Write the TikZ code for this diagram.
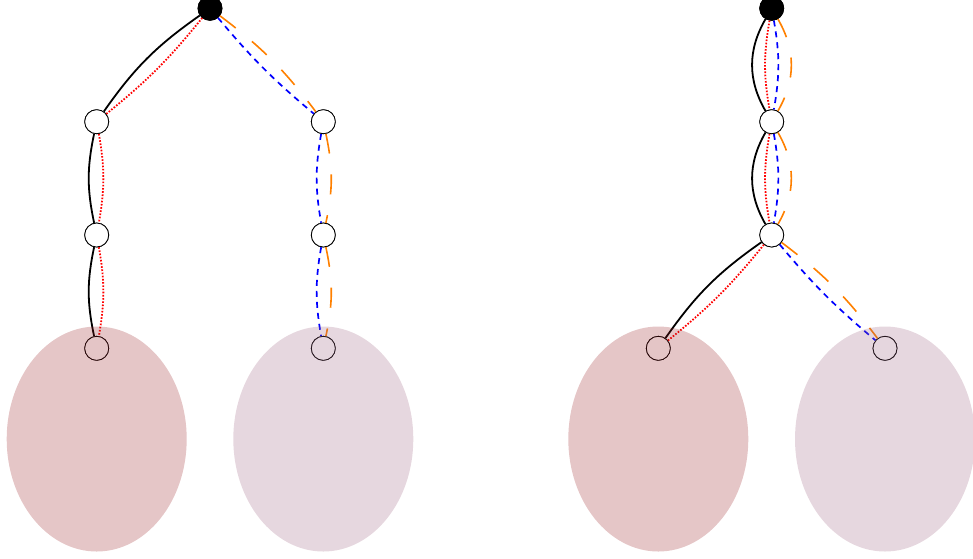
\documentclass[tikz,border=0pt]{standalone}
\usetikzlibrary{calc}
\definecolor{blobred}{RGB}{151,27,31}
\definecolor{blobpurple}{RGB}{155,95,127}
\definecolor{porangec}{RGB}{255,128,0}
\begin{document}
\begin{tikzpicture}[x=1pt,y=1pt,
  vtx/.style={circle,draw=black,line width=0.8pt,fill=white,minimum size=24pt,inner sep=0pt},
  rootv/.style={circle,fill=black,draw=black,line width=0.8pt,minimum size=24pt,inner sep=0pt},
  pblack/.style={black,line width=1.8pt},
  pred/.style={red,line width=1.8pt,dash pattern=on 1.6pt off 1.6pt},
  pblue/.style={blue,line width=1.7pt,dash pattern=on 6pt off 5pt},
  porange/.style={porangec,line width=1.6pt,dash pattern=on 20pt off 21pt},
  blobA/.style={fill=blobred,fill opacity=0.25},
  blobB/.style={fill=blobpurple,fill opacity=0.25},
]
\useasboundingbox (0,0) rectangle (973,-558);

% ---------- left tree ----------
\node[rootv] (R1) at (210,-8.3) {};
\node[vtx] (A1) at (96.7,-121.7) {};
\node[vtx] (A2) at (96.7,-235) {};
\node[vtx] (A3) at (96.7,-348.3) {};
\node[vtx] (B1) at (323.3,-121.7) {};
\node[vtx] (B2) at (323.3,-235) {};
\node[vtx] (B3) at (323.3,-348.3) {};

\draw[pblack] (R1) to[bend right=10] (A1);
\draw[pred]   (R1) to[bend left=6] (A1);
\draw[pblack] (A1) to[bend right=12] (A2);
\draw[pred]   (A1) to[bend left=10] (A2);
\draw[pblack] (A2) to[bend right=12] (A3);
\draw[pred]   (A2) to[bend left=10] (A3);

\draw[pblue]   (R1) to[bend right=5] (B1);
\draw[porange] (R1) to[bend left=8] (B1);
\draw[pblue]   (B1) to[bend right=10] (B2);
\draw[porange] (B1) to[bend left=12] (B2);
\draw[pblue]   (B2) to[bend right=10] (B3);
\draw[porange] (B2) to[bend left=12] (B3);

% ---------- right tree ----------
\node[rootv] (R2) at (771.7,-8.3) {};
\node[vtx] (C1) at (771.7,-121.7) {};
\node[vtx] (C2) at (771.7,-235) {};
\node[vtx] (D)  at (658.3,-348.3) {};
\node[vtx] (E)  at (885,-348.3) {};

\draw[pblack]  (R2) to[bend right=30] (C1);
\draw[pred]    (R2) to[bend right=10] (C1);
\draw[pblue]   (R2) to[bend left=10] (C1);
\draw[porange] (R2) to[bend left=30] (C1);
\draw[pblack]  (C1) to[bend right=30] (C2);
\draw[pred]    (C1) to[bend right=10] (C2);
\draw[pblue]   (C1) to[bend left=10] (C2);
\draw[porange] (C1) to[bend left=30] (C2);

\draw[pblack]  (C2) to[bend right=10] (D);
\draw[pred]    (C2) to[bend left=6] (D);
\draw[pblue]   (C2) to[bend right=5] (E);
\draw[porange] (C2) to[bend left=8] (E);

% redraw nodes above edges
\foreach \n in {R1,R2}{\node[rootv] at (\n) {};}
\foreach \n in {A1,A2,A3,B1,B2,B3,C1,C2,D,E}{\node[vtx] at (\n) {};}

% ---------- blobs (on top, translucent) ----------
\fill[blobA] (96.7,-439) ellipse [x radius=90, y radius=112.5];
\fill[blobB] (323.3,-439) ellipse [x radius=90, y radius=112.5];
\fill[blobA] (658.3,-439) ellipse [x radius=90, y radius=112.5];
\fill[blobB] (885,-439) ellipse [x radius=90, y radius=112.5];
\end{tikzpicture}
\end{document}
